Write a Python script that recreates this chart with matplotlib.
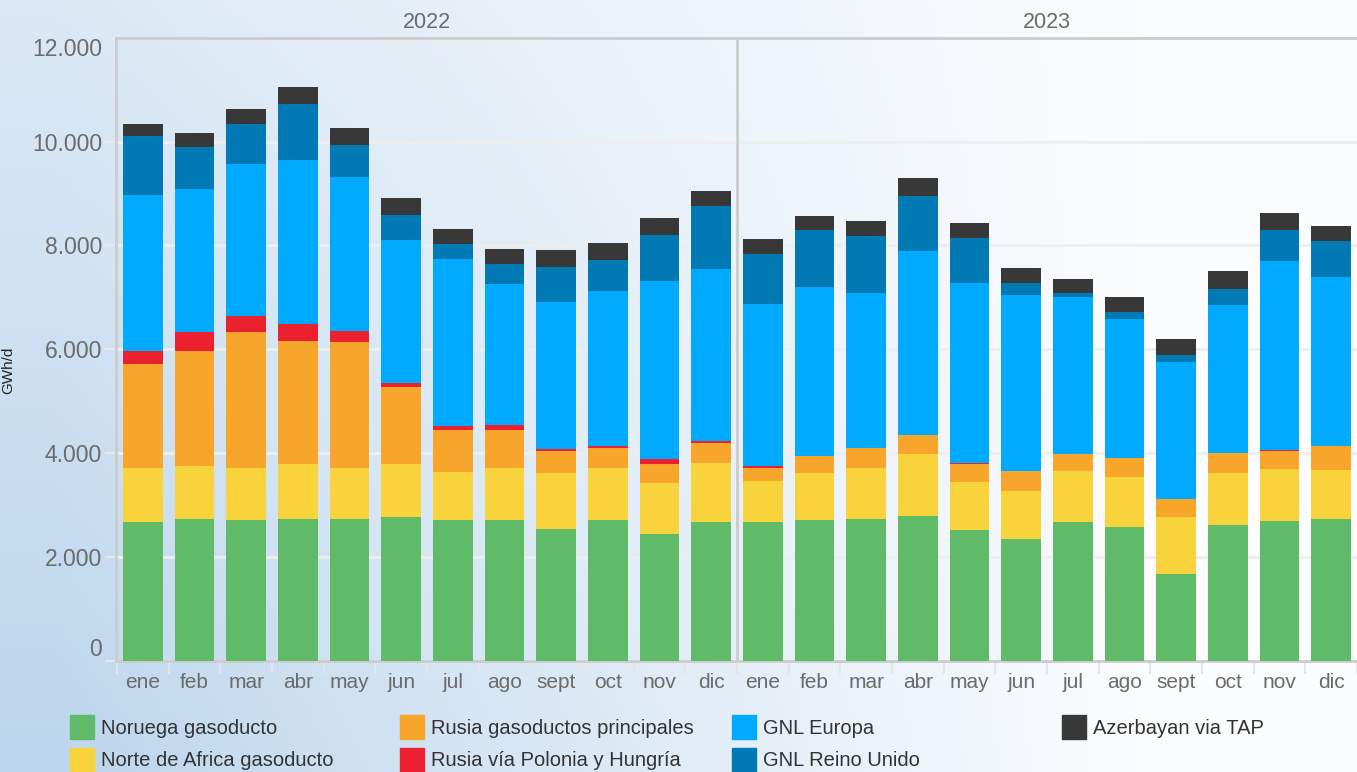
import numpy as np
import matplotlib
matplotlib.use('Agg')
import matplotlib.pyplot as plt
from matplotlib.patches import Rectangle

# datos (GWh/d), ene 2022 .. dic 2023
months = ['ene', 'feb', 'mar', 'abr', 'may', 'jun', 'jul', 'ago', 'sept', 'oct', 'nov', 'dic'] * 2
years = ['2022', '2023']

noruega = [2680, 2740, 2720, 2740, 2740, 2770, 2720, 2720, 2540, 2720, 2450, 2680,
           2680, 2720, 2740, 2790, 2530, 2350, 2680, 2580, 1680, 2620, 2700, 2740]
africa = [1040, 1020, 1000, 1060, 980, 1020, 920, 1000, 1080, 1000, 980, 1130,
          790, 900, 980, 1190, 920, 920, 980, 960, 1090, 1000, 1000, 940]
rusia_main = [2000, 2210, 2610, 2360, 2420, 1480, 810, 730, 420, 380, 370, 380,
              250, 330, 380, 370, 350, 380, 330, 370, 350, 380, 350, 460]
rusia_pol = [250, 360, 310, 330, 210, 80, 80, 100, 40, 40, 80, 40,
             40, 0, 0, 0, 20, 0, 0, 0, 0, 0, 20, 0]
gnl_europa = [3000, 2750, 2920, 3150, 2960, 2750, 3210, 2710, 2840, 2980, 3440, 3320,
              3110, 3260, 2980, 3550, 3460, 3400, 3010, 2670, 2630, 2860, 3630, 3260]
gnl_ru = [1130, 810, 770, 1090, 630, 480, 290, 380, 670, 600, 880, 1210,
          960, 1080, 1100, 1060, 860, 230, 80, 130, 150, 310, 600, 690]
azerbayan = [230, 270, 290, 330, 330, 330, 290, 290, 330, 330, 330, 290,
             290, 270, 290, 330, 290, 290, 270, 290, 290, 330, 330, 290]

series = [noruega, africa, rusia_main, rusia_pol, gnl_europa, gnl_ru, azerbayan]
labels = ['Noruega gasoducto', 'Norte de Africa gasoducto', 'Rusia gasoductos principales',
          'Rusia vía Polonia y Hungría', 'GNL Europa', 'GNL Reino Unido', 'Azerbayan via TAP']
colors = ['#5FBB68', '#F9D33C', '#F8A62B', '#EC212F', '#00AAFF', '#0079B5', '#383838']

regular = ['Liberation Sans', 'DejaVu Sans']

W, H = 1357, 772
fig = plt.figure(figsize=(W / 100, H / 100), dpi=100)

# fondo degradado azul -> blanco
bg = fig.add_axes([0, 0, 1, 1], zorder=-10)
xx, yy = np.meshgrid(np.linspace(0, 1, 300), np.linspace(0, 1, 200))
w = np.clip(1.05 - xx * 1.25, 0, 1) * (0.5 + 0.5 * yy)
blue = np.array([188, 214, 237]) / 255
white = np.array([251, 252, 254]) / 255
img = white[None, None, :] * (1 - w[..., None]) + blue[None, None, :] * w[..., None]
bg.imshow(img, aspect='auto', extent=[0, 1, 0, 1], origin='upper')
bg.axis('off')

ax = fig.add_axes([116 / W, 1 - 661 / H, 1 - 116 / W, (661 - 37.7) / H])
ax.patch.set_alpha(0)

x = np.arange(len(months))
bottom = np.zeros(len(months))
for vals, lab, col in zip(series, labels, colors):
    ax.bar(x, vals, width=0.77, bottom=bottom, color=col, label=lab, zorder=3)
    bottom += np.array(vals)

ax.set_xlim(-0.52, 23.44)
ax.set_ylim(0, 12000)

yt = np.arange(0, 12001, 2000)
ax.set_yticks(yt, [f'{v:,}'.replace(',', '.') for v in yt])
for t in ax.get_yticklabels():
    t.set_fontfamily(regular)
    t.set_fontsize(16.5)
    t.set_color('#6b6b6b')
ylabs = ax.get_yticklabels()
ylabs[0].set_va('bottom')
ylabs[-1].set_va('top')
ax.tick_params(axis='y', length=8, color='#e6e9ec', width=1.5, pad=2)

ax.set_xticks(x, months)
for t in ax.get_xticklabels():
    t.set_fontfamily(regular)
    t.set_fontsize(15)
    t.set_color('#6b6b6b')
ax.tick_params(axis='x', length=0, pad=9)
ax.set_xticks(np.arange(-0.5, 24, 1), minor=True)
ax.tick_params(axis='x', which='minor', length=9, color='#e2e6ea', width=1.5)

ax.grid(axis='y', color='#eeeeee', lw=2, zorder=0)
for s in ['top', 'left', 'bottom']:
    ax.spines[s].set_color('#cccccc')
    ax.spines[s].set_linewidth(2)
ax.spines['right'].set_visible(False)
ax.axvline(11.5, color='#cccccc', lw=2, zorder=4)

ax.text(5.5, 12000 + 300, years[0], ha='center', va='center', fontsize=15.5,
        color='#6b6b6b', family=regular)
ax.text(17.5, 12000 + 300, years[1], ha='center', va='center', fontsize=15.5,
        color='#6b6b6b', family=regular)

fig.text(8 / W, 1 - 370 / H, 'GWh/d', rotation=90, ha='center', va='center',
         fontsize=11, color='#222222', family=regular)

# leyenda manual en 4 columnas
col_x = [70, 400, 732, 1062]
row_y = [727, 760]
for i, (lab, col) in enumerate(zip(labels, colors)):
    cx = col_x[i // 2]
    cy = row_y[i % 2]
    fig.patches.append(Rectangle((cx / W, 1 - (cy + 12) / H), 24 / W, 24 / H,
                                 transform=fig.transFigure, color=col))
    fig.text((cx + 31) / W, 1 - (cy + 1) / H, lab, ha='left', va='center',
             fontsize=14.5, color='#333333', family=regular)

fig.savefig('out.png', dpi=100)
